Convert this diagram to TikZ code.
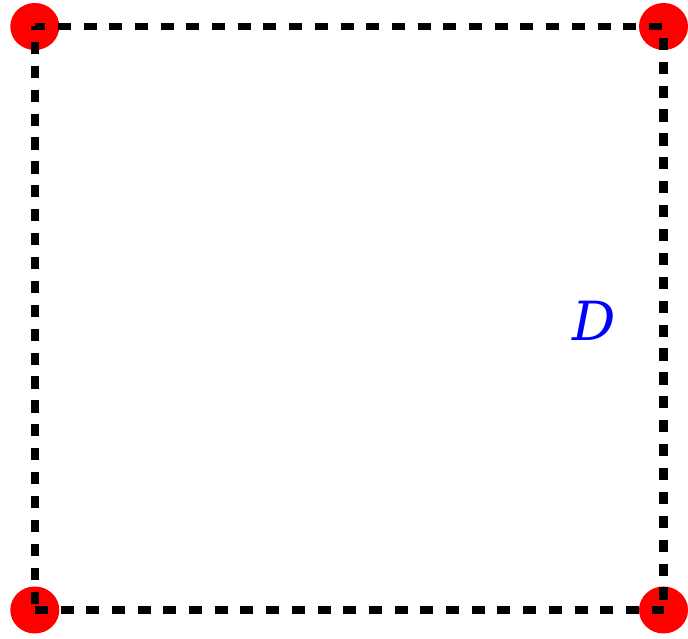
\documentclass[tikz,border=0pt]{standalone}
\usepackage{fontspec}
\setmainfont{DejaVu Serif}
\usetikzlibrary{shapes.geometric}
\definecolor{dotred}{RGB}{255,0,0}
\definecolor{labelblue}{RGB}{0,0,255}

\begin{document}
\begin{tikzpicture}[
    x=1pt, y=1pt,
    corner/.style={ellipse, fill=dotred, minimum width=49pt, minimum height=47pt, inner sep=0pt},
    hedge/.style={line width=7.5pt, dash pattern=on 13pt off 12.7pt},
    vedge/.style={line width=8.2pt, dash pattern=on 12.2pt off 11.7pt},
    lbl/.style={text=labelblue, font=\fontsize{54}{62}\selectfont\itshape}
]
    \useasboundingbox (0,0) rectangle (688,639);
    \node[corner] (tl) at (34.8,612.5) {};
    \node[corner] (tr) at (663.5,612.5) {};
    \node[corner] (bl) at (34.8,29) {};
    \node[corner] (br) at (663.5,29) {};
    % dashed border of the domain
    \draw[hedge, dash phase=2.7pt] (tl.center) -- (tr.center);
    \draw[hedge] (bl.center) -- (br.center);
    \draw[vedge, dash phase=8.5pt] (tl.center) -- (bl.center);
    \draw[vedge, dash phase=12.6pt] (tr.center) -- (br.center);
    \node[lbl] (dom) at (594,318) {D};
\end{tikzpicture}
\end{document}
